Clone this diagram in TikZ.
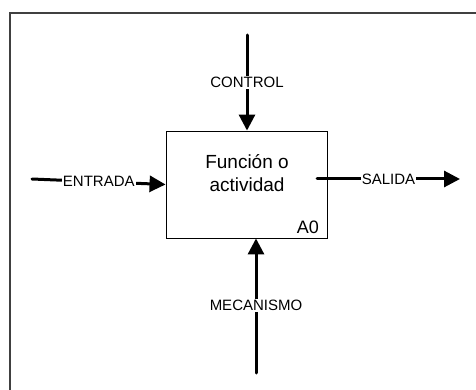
\documentclass[tikz,border=0pt]{standalone}
\usepackage{fontspec}
\setmainfont{Liberation Sans}
\usetikzlibrary{arrows.meta}

\begin{document}
\begin{tikzpicture}[x=1pt,y=-1pt,
  flecha/.style={line width=3pt,line cap=round,-{Triangle[length=16pt,width=16pt]}},
  etiqueta/.style={fill=white,inner sep=1pt,font=\fontsize{15}{17}\selectfont}]
\useasboundingbox (0,0) rectangle (476,390);
\draw[black!75,line width=1.2pt] (10,390) -- (10,13) -- (476,13);

\node[draw,line width=0.9pt,minimum width=161pt,minimum height=107pt,inner sep=0pt] (f) at (246.5,184.5) {};
\node[align=center,font=\fontsize{19}{23}\selectfont] (txt) at (247,173) {Función o\\actividad};
\node[anchor=base east,inner sep=0pt,font=\fontsize{18}{20}\selectfont] (a0) at (319,233) {A0};

\coordinate (c) at (247,35);
\coordinate (m) at (256,373);
\coordinate (e) at (32,179);
\coordinate (s0) at (317,179);
\coordinate (s) at (460,179);

\draw[flecha] (c) -- node[etiqueta] {CONTROL} (c |- f.north);
\draw[flecha] (m) -- node[etiqueta] {MECANISMO} (m |- f.south);
\draw[flecha] (e) -- node[etiqueta] {ENTRADA} (f.west);
\draw[flecha] (s0) -- node[etiqueta] {SALIDA} (s);
\end{tikzpicture}
\end{document}
